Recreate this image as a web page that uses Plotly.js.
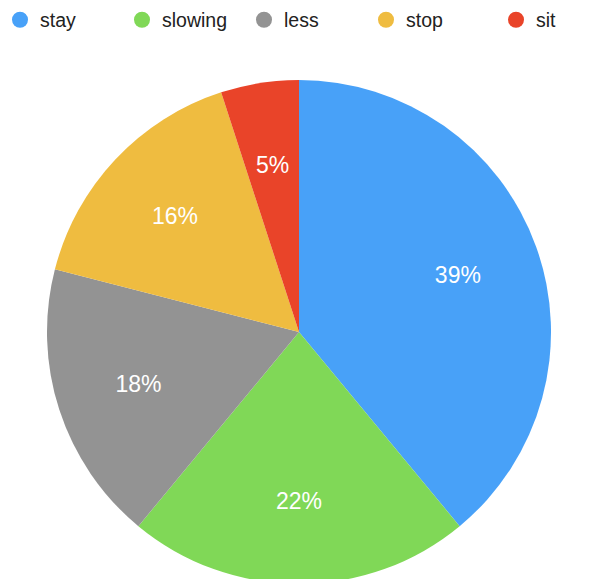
<!DOCTYPE html>
<html>
<head>
<meta charset="utf-8">
<script src="https://cdn.plot.ly/plotly-3.0.1.min.js"></script>
<style>
html,body{margin:0;padding:0;overflow:hidden;background:#fff;}
#chart{width:590px;height:600px;}
</style>
</head>
<body>
<div id="chart"></div>
<script>
const categories = ["stay", "slowing", "less", "stop", "sit"];
const values = [39, 22, 18, 16, 5];
const colors = ["#48a1f8", "#80d857", "#939393", "#efbc40", "#e94429"];
const legendGroup = ["legend", "legend", "legend", "legend", "legend2"];

const W = 590, H = 600;
const cx = 299, cy = 332, R = 252;   // pie centre / radius in pixels
const dom = (r) => ({x: [(cx - r) / W, (cx + r) / W], y: [(H - cy - r) / H, (H - cy + r) / H]});

const pie = {
  type: "pie",
  labels: categories,
  values: values,
  sort: false,
  direction: "clockwise",
  rotation: 0,
  marker: {colors: colors, line: {width: 0}},
  textinfo: "none",
  hoverinfo: "label+percent",
  showlegend: false,
  domain: dom(R)
};

const txtFont = {family: "Liberation Sans, Arial, sans-serif", size: 23, color: "#ffffff"};

// transparent ring carrying the percentage labels (all but the narrow slice)
const labelRing = {
  type: "pie",
  labels: categories,
  values: values,
  sort: false,
  direction: "clockwise",
  rotation: 0,
  hole: 0.34,
  marker: {colors: categories.map(() => "rgba(0,0,0,0)"), line: {width: 0}},
  texttemplate: values.map((v, i) => i === 4 ? "" : "%{percent:.0%}"),
  textposition: "inside",
  insidetextorientation: "horizontal",
  textfont: txtFont,
  hoverinfo: "skip",
  showlegend: false,
  domain: dom(R)
};

// smaller transparent ring for the narrow slice label
const labelRingSmall = {
  type: "pie",
  labels: categories,
  values: values,
  sort: false,
  direction: "clockwise",
  rotation: 0,
  hole: 0.55,
  marker: {colors: categories.map(() => "rgba(0,0,0,0)"), line: {width: 0}},
  texttemplate: values.map((v, i) => i === 4 ? "%{percent:.0%}" : ""),
  textposition: "inside",
  insidetextorientation: "horizontal",
  textfont: txtFont,
  hoverinfo: "skip",
  showlegend: false,
  domain: dom(195)
};

const legendTraces = categories.map((c, i) => ({
  type: "scatter",
  mode: "markers",
  x: [null], y: [null],
  name: c,
  legend: legendGroup[i],
  marker: {symbol: "circle", size: 18, color: colors[i]},
  showlegend: true,
  hoverinfo: "skip"
}));

const legendFont = {family: "Liberation Sans, Arial, sans-serif", size: 19.5, color: "#222222"};
const legendBase = {
  orientation: "h",
  xanchor: "left",
  y: 0.999, yanchor: "top",
  bgcolor: "rgba(0,0,0,0)",
  font: legendFont,
  itemclick: false, itemdoubleclick: false
};

const layout = {
  width: W,
  height: H,
  margin: {l: 0, r: 0, t: 0, b: 0},
  paper_bgcolor: "#ffffff",
  plot_bgcolor: "rgba(0,0,0,0)",
  xaxis: {visible: false},
  yaxis: {visible: false},
  showlegend: true,
  legend: Object.assign({}, legendBase, {x: 0, entrywidth: 77, entrywidthmode: "pixels"}),
  legend2: Object.assign({}, legendBase, {x: 0.8407})
};

Plotly.newPlot("chart", [pie, labelRing, labelRingSmall].concat(legendTraces), layout, {displayModeBar: false, staticPlot: true});
</script>
</body>
</html>
